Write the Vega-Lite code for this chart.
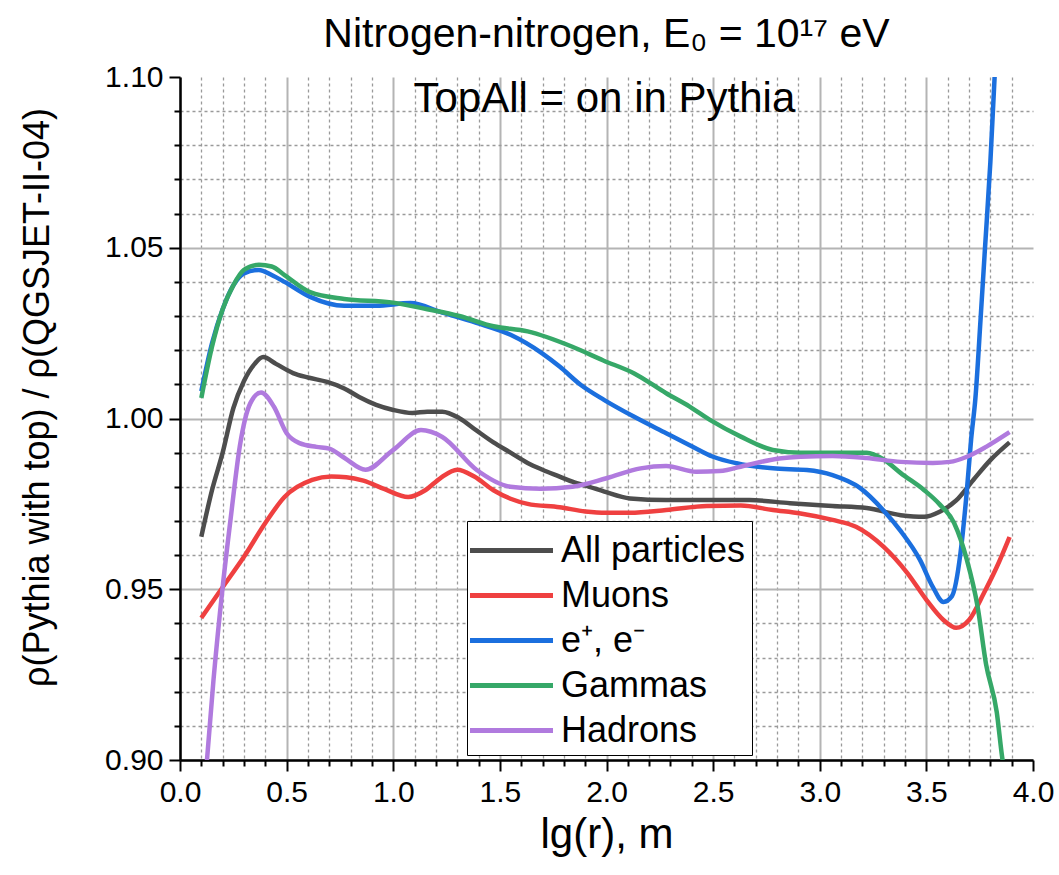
{
  "$schema": "https://vega.github.io/schema/vega-lite/v6.json",
  "width": 853,
  "height": 683,
  "autosize": {"type": "none"},
  "padding": {"left": 180, "top": 77, "right": 26, "bottom": 115},
  "background": "white",
  "config": {
    "view": {"stroke": null},
    "font": "Liberation Sans"
  },
  "title": {
    "text": "Nitrogen-nitrogen, E₀ = 10¹⁷ eV",
    "font": "Liberation Sans",
    "fontSize": 41,
    "fontWeight": "normal",
    "color": "black",
    "anchor": "middle",
    "frame": "group",
    "offset": 6
  },
  "datasets": {
    "curves": [
      {"series": "All particles", "x": 0.10, "y": 0.9654},
      {"series": "All particles", "x": 0.15, "y": 0.979},
      {"series": "All particles", "x": 0.20, "y": 0.990},
      {"series": "All particles", "x": 0.25, "y": 1.003},
      {"series": "All particles", "x": 0.30, "y": 1.011},
      {"series": "All particles", "x": 0.35, "y": 1.016},
      {"series": "All particles", "x": 0.39, "y": 1.018},
      {"series": "All particles", "x": 0.45, "y": 1.016},
      {"series": "All particles", "x": 0.53, "y": 1.0133},
      {"series": "All particles", "x": 0.60, "y": 1.012},
      {"series": "All particles", "x": 0.69, "y": 1.0107},
      {"series": "All particles", "x": 0.77, "y": 1.0088},
      {"series": "All particles", "x": 0.84, "y": 1.0063},
      {"series": "All particles", "x": 0.92, "y": 1.004},
      {"series": "All particles", "x": 1.00, "y": 1.0025},
      {"series": "All particles", "x": 1.09, "y": 1.0016},
      {"series": "All particles", "x": 1.16, "y": 1.002},
      {"series": "All particles", "x": 1.23, "y": 1.002},
      {"series": "All particles", "x": 1.31, "y": 1.0001},
      {"series": "All particles", "x": 1.39, "y": 0.9965},
      {"series": "All particles", "x": 1.47, "y": 0.993},
      {"series": "All particles", "x": 1.55, "y": 0.990},
      {"series": "All particles", "x": 1.63, "y": 0.987},
      {"series": "All particles", "x": 1.70, "y": 0.985},
      {"series": "All particles", "x": 1.78, "y": 0.983},
      {"series": "All particles", "x": 1.84, "y": 0.9815},
      {"series": "All particles", "x": 1.92, "y": 0.980},
      {"series": "All particles", "x": 1.99, "y": 0.9786},
      {"series": "All particles", "x": 2.11, "y": 0.9766},
      {"series": "All particles", "x": 2.28, "y": 0.9761},
      {"series": "All particles", "x": 2.47, "y": 0.9761},
      {"series": "All particles", "x": 2.67, "y": 0.9761},
      {"series": "All particles", "x": 2.86, "y": 0.9752},
      {"series": "All particles", "x": 3.06, "y": 0.9744},
      {"series": "All particles", "x": 3.22, "y": 0.9738},
      {"series": "All particles", "x": 3.38, "y": 0.9717},
      {"series": "All particles", "x": 3.49, "y": 0.9712},
      {"series": "All particles", "x": 3.56, "y": 0.9726},
      {"series": "All particles", "x": 3.64, "y": 0.976},
      {"series": "All particles", "x": 3.72, "y": 0.982},
      {"series": "All particles", "x": 3.80, "y": 0.9878},
      {"series": "All particles", "x": 3.89, "y": 0.993},

      {"series": "Muons", "x": 0.10, "y": 0.9416},
      {"series": "Muons", "x": 0.20, "y": 0.9506},
      {"series": "Muons", "x": 0.30, "y": 0.9595},
      {"series": "Muons", "x": 0.40, "y": 0.9694},
      {"series": "Muons", "x": 0.49, "y": 0.977},
      {"series": "Muons", "x": 0.62, "y": 0.982},
      {"series": "Muons", "x": 0.71, "y": 0.983},
      {"series": "Muons", "x": 0.78, "y": 0.9828},
      {"series": "Muons", "x": 0.86, "y": 0.9818},
      {"series": "Muons", "x": 0.96, "y": 0.9793},
      {"series": "Muons", "x": 1.07, "y": 0.977},
      {"series": "Muons", "x": 1.15, "y": 0.979},
      {"series": "Muons", "x": 1.22, "y": 0.9825},
      {"series": "Muons", "x": 1.30, "y": 0.985},
      {"series": "Muons", "x": 1.38, "y": 0.983},
      {"series": "Muons", "x": 1.47, "y": 0.979},
      {"series": "Muons", "x": 1.55, "y": 0.9765},
      {"series": "Muons", "x": 1.63, "y": 0.975},
      {"series": "Muons", "x": 1.78, "y": 0.974},
      {"series": "Muons", "x": 1.90, "y": 0.9728},
      {"series": "Muons", "x": 2.00, "y": 0.9724},
      {"series": "Muons", "x": 2.11, "y": 0.9724},
      {"series": "Muons", "x": 2.28, "y": 0.9732},
      {"series": "Muons", "x": 2.47, "y": 0.9744},
      {"series": "Muons", "x": 2.63, "y": 0.9745},
      {"series": "Muons", "x": 2.78, "y": 0.9732},
      {"series": "Muons", "x": 2.91, "y": 0.9722},
      {"series": "Muons", "x": 3.06, "y": 0.9703},
      {"series": "Muons", "x": 3.17, "y": 0.9683},
      {"series": "Muons", "x": 3.30, "y": 0.9624},
      {"series": "Muons", "x": 3.41, "y": 0.9548},
      {"series": "Muons", "x": 3.50, "y": 0.9469},
      {"series": "Muons", "x": 3.58, "y": 0.941},
      {"series": "Muons", "x": 3.64, "y": 0.9387},
      {"series": "Muons", "x": 3.70, "y": 0.941},
      {"series": "Muons", "x": 3.77, "y": 0.9489},
      {"series": "Muons", "x": 3.83, "y": 0.9565},
      {"series": "Muons", "x": 3.89, "y": 0.9653},

      {"series": "e⁺, e⁻", "x": 0.10, "y": 1.008},
      {"series": "e⁺, e⁻", "x": 0.15, "y": 1.022},
      {"series": "e⁺, e⁻", "x": 0.20, "y": 1.032},
      {"series": "e⁺, e⁻", "x": 0.25, "y": 1.039},
      {"series": "e⁺, e⁻", "x": 0.30, "y": 1.0425},
      {"series": "e⁺, e⁻", "x": 0.37, "y": 1.0435},
      {"series": "e⁺, e⁻", "x": 0.43, "y": 1.042},
      {"series": "e⁺, e⁻", "x": 0.49, "y": 1.040},
      {"series": "e⁺, e⁻", "x": 0.61, "y": 1.0356},
      {"series": "e⁺, e⁻", "x": 0.77, "y": 1.033},
      {"series": "e⁺, e⁻", "x": 0.92, "y": 1.033},
      {"series": "e⁺, e⁻", "x": 1.08, "y": 1.0338},
      {"series": "e⁺, e⁻", "x": 1.23, "y": 1.031},
      {"series": "e⁺, e⁻", "x": 1.39, "y": 1.028},
      {"series": "e⁺, e⁻", "x": 1.55, "y": 1.0245},
      {"series": "e⁺, e⁻", "x": 1.70, "y": 1.019},
      {"series": "e⁺, e⁻", "x": 1.78, "y": 1.0152},
      {"series": "e⁺, e⁻", "x": 1.88, "y": 1.0098},
      {"series": "e⁺, e⁻", "x": 1.99, "y": 1.0054},
      {"series": "e⁺, e⁻", "x": 2.13, "y": 1.0005},
      {"series": "e⁺, e⁻", "x": 2.28, "y": 0.9957},
      {"series": "e⁺, e⁻", "x": 2.39, "y": 0.9922},
      {"series": "e⁺, e⁻", "x": 2.50, "y": 0.9888},
      {"series": "e⁺, e⁻", "x": 2.61, "y": 0.9869},
      {"series": "e⁺, e⁻", "x": 2.78, "y": 0.9854},
      {"series": "e⁺, e⁻", "x": 2.94, "y": 0.9849},
      {"series": "e⁺, e⁻", "x": 3.06, "y": 0.9834},
      {"series": "e⁺, e⁻", "x": 3.19, "y": 0.9796},
      {"series": "e⁺, e⁻", "x": 3.30, "y": 0.973},
      {"series": "e⁺, e⁻", "x": 3.38, "y": 0.967},
      {"series": "e⁺, e⁻", "x": 3.47, "y": 0.9586},
      {"series": "e⁺, e⁻", "x": 3.53, "y": 0.9507},
      {"series": "e⁺, e⁻", "x": 3.58, "y": 0.9463},
      {"series": "e⁺, e⁻", "x": 3.62, "y": 0.948},
      {"series": "e⁺, e⁻", "x": 3.66, "y": 0.9606},
      {"series": "e⁺, e⁻", "x": 3.69, "y": 0.979},
      {"series": "e⁺, e⁻", "x": 3.71, "y": 0.994},
      {"series": "e⁺, e⁻", "x": 3.73, "y": 1.006},
      {"series": "e⁺, e⁻", "x": 3.755, "y": 1.030},
      {"series": "e⁺, e⁻", "x": 3.775, "y": 1.050},
      {"series": "e⁺, e⁻", "x": 3.80, "y": 1.075},
      {"series": "e⁺, e⁻", "x": 3.82, "y": 1.100},
      {"series": "e⁺, e⁻", "x": 3.83, "y": 1.115},

      {"series": "Gammas", "x": 0.10, "y": 1.006},
      {"series": "Gammas", "x": 0.15, "y": 1.021},
      {"series": "Gammas", "x": 0.20, "y": 1.032},
      {"series": "Gammas", "x": 0.25, "y": 1.039},
      {"series": "Gammas", "x": 0.30, "y": 1.0435},
      {"series": "Gammas", "x": 0.37, "y": 1.045},
      {"series": "Gammas", "x": 0.43, "y": 1.0445},
      {"series": "Gammas", "x": 0.49, "y": 1.042},
      {"series": "Gammas", "x": 0.61, "y": 1.037},
      {"series": "Gammas", "x": 0.77, "y": 1.035},
      {"series": "Gammas", "x": 0.99, "y": 1.034},
      {"series": "Gammas", "x": 1.16, "y": 1.032},
      {"series": "Gammas", "x": 1.31, "y": 1.030},
      {"series": "Gammas", "x": 1.47, "y": 1.027},
      {"series": "Gammas", "x": 1.63, "y": 1.0255},
      {"series": "Gammas", "x": 1.84, "y": 1.021},
      {"series": "Gammas", "x": 1.985, "y": 1.017},
      {"series": "Gammas", "x": 2.13, "y": 1.0132},
      {"series": "Gammas", "x": 2.28, "y": 1.0074},
      {"series": "Gammas", "x": 2.39, "y": 1.0035},
      {"series": "Gammas", "x": 2.485, "y": 0.9996},
      {"series": "Gammas", "x": 2.63, "y": 0.9947},
      {"series": "Gammas", "x": 2.78, "y": 0.9908},
      {"series": "Gammas", "x": 2.91, "y": 0.990},
      {"series": "Gammas", "x": 3.06, "y": 0.990},
      {"series": "Gammas", "x": 3.22, "y": 0.990},
      {"series": "Gammas", "x": 3.30, "y": 0.988},
      {"series": "Gammas", "x": 3.38, "y": 0.984},
      {"series": "Gammas", "x": 3.49, "y": 0.979},
      {"series": "Gammas", "x": 3.56, "y": 0.975},
      {"series": "Gammas", "x": 3.63, "y": 0.9694},
      {"series": "Gammas", "x": 3.69, "y": 0.9586},
      {"series": "Gammas", "x": 3.74, "y": 0.945},
      {"series": "Gammas", "x": 3.78, "y": 0.928},
      {"series": "Gammas", "x": 3.83, "y": 0.914},
      {"series": "Gammas", "x": 3.855, "y": 0.901},
      {"series": "Gammas", "x": 3.87, "y": 0.895},

      {"series": "Hadrons", "x": 0.12, "y": 0.895},
      {"series": "Hadrons", "x": 0.157, "y": 0.9234},
      {"series": "Hadrons", "x": 0.20, "y": 0.9506},
      {"series": "Hadrons", "x": 0.24, "y": 0.972},
      {"series": "Hadrons", "x": 0.28, "y": 0.9917},
      {"series": "Hadrons", "x": 0.33, "y": 1.0045},
      {"series": "Hadrons", "x": 0.38, "y": 1.0076},
      {"series": "Hadrons", "x": 0.44, "y": 1.0035},
      {"series": "Hadrons", "x": 0.50, "y": 0.9957},
      {"series": "Hadrons", "x": 0.56, "y": 0.9928},
      {"series": "Hadrons", "x": 0.64, "y": 0.9917},
      {"series": "Hadrons", "x": 0.70, "y": 0.9912},
      {"series": "Hadrons", "x": 0.77, "y": 0.9885},
      {"series": "Hadrons", "x": 0.87, "y": 0.985},
      {"series": "Hadrons", "x": 1.00, "y": 0.9908},
      {"series": "Hadrons", "x": 1.13, "y": 0.9966},
      {"series": "Hadrons", "x": 1.23, "y": 0.9946},
      {"series": "Hadrons", "x": 1.39, "y": 0.985},
      {"series": "Hadrons", "x": 1.55, "y": 0.980},
      {"series": "Hadrons", "x": 1.69, "y": 0.9794},
      {"series": "Hadrons", "x": 1.84, "y": 0.980},
      {"series": "Hadrons", "x": 2.00, "y": 0.9825},
      {"series": "Hadrons", "x": 2.16, "y": 0.9854},
      {"series": "Hadrons", "x": 2.28, "y": 0.9861},
      {"series": "Hadrons", "x": 2.42, "y": 0.9844},
      {"series": "Hadrons", "x": 2.53, "y": 0.9846},
      {"series": "Hadrons", "x": 2.66, "y": 0.9864},
      {"series": "Hadrons", "x": 2.81, "y": 0.9883},
      {"series": "Hadrons", "x": 2.91, "y": 0.9888},
      {"series": "Hadrons", "x": 3.06, "y": 0.989},
      {"series": "Hadrons", "x": 3.22, "y": 0.9884},
      {"series": "Hadrons", "x": 3.38, "y": 0.9873},
      {"series": "Hadrons", "x": 3.53, "y": 0.987},
      {"series": "Hadrons", "x": 3.61, "y": 0.9873},
      {"series": "Hadrons", "x": 3.69, "y": 0.9888},
      {"series": "Hadrons", "x": 3.78, "y": 0.9917},
      {"series": "Hadrons", "x": 3.89, "y": 0.996}
    ],
    "notes": [
      {"note": "TopAll = on in Pythia"}
    ]
  },
  "layer": [
    {
      "data": {"name": "curves"},
      "mark": {"type": "line", "interpolate": "monotone", "strokeWidth": 4.5, "clip": true},
      "encoding": {
        "x": {
          "field": "x",
          "type": "quantitative",
          "scale": {"domain": [0, 4], "nice": false, "zero": false},
          "axis": {
            "title": "lg(r), m",
            "titleFont": "Liberation Sans",
            "titleFontSize": 42,
            "titleFontWeight": "normal",
            "titleColor": "black",
            "titlePadding": 7,
            "tickCount": 200,
            "values": [0, 0.1, 0.2, 0.3, 0.4, 0.5, 0.6, 0.7, 0.8, 0.9, 1, 1.1, 1.2, 1.3, 1.4, 1.5, 1.6, 1.7, 1.8, 1.9, 2, 2.1, 2.2, 2.3, 2.4, 2.5, 2.6, 2.7, 2.8, 2.9, 3, 3.1, 3.2, 3.3, 3.4, 3.5, 3.6, 3.7, 3.8, 3.9, 4],
            "labelExpr": "indexof([0, 0.5, 1, 1.5, 2, 2.5, 3, 3.5, 4], datum.value) >= 0 ? format(datum.value, '.1f') : ''",
            "labelFont": "Liberation Sans",
            "labelFontSize": 30,
            "labelColor": "black",
            "labelPadding": 6,
            "labelFlush": false,
            "labelOverlap": false,
            "labelBound": false,
            "domainColor": "black",
            "domainWidth": 2.5,
            "tickColor": "black",
            "tickWidth": 2,
            "tickSize": {"condition": {"test": "indexof([0, 0.5, 1, 1.5, 2, 2.5, 3, 3.5, 4], datum.value) >= 0", "value": 11}, "value": 6},
            "grid": true,
            "gridColor": {"condition": {"test": "indexof([0, 0.5, 1, 1.5, 2, 2.5, 3, 3.5, 4], datum.value) >= 0", "value": "#b4b4b4"}, "value": "#9a9a9a"},
            "gridWidth": {"condition": {"test": "indexof([0, 0.5, 1, 1.5, 2, 2.5, 3, 3.5, 4], datum.value) >= 0", "value": 2}, "value": 1.3},
            "gridDash": {"condition": {"test": "indexof([0, 0.5, 1, 1.5, 2, 2.5, 3, 3.5, 4], datum.value) >= 0", "value": []}, "value": [3, 3]},
            "gridOpacity": {"condition": {"test": "datum.value > 3.95", "value": 0}, "value": 1}
          }
        },
        "y": {
          "field": "y",
          "type": "quantitative",
          "scale": {"domain": [0.9, 1.1], "nice": false, "zero": false},
          "axis": {
            "title": "ρ(Pythia with top) / ρ(QGSJET-II-04)",
            "titleFont": "Liberation Sans",
            "titleFontSize": 36,
            "titleFontWeight": "normal",
            "titleColor": "black",
            "titlePadding": 48,
            "titleY": 320,
            "tickCount": 200,
            "values": [0.9, 0.91, 0.92, 0.93, 0.94, 0.95, 0.96, 0.97, 0.98, 0.99, 1, 1.01, 1.02, 1.03, 1.04, 1.05, 1.06, 1.07, 1.08, 1.09, 1.1],
            "labelExpr": "indexof([0.9, 0.95, 1, 1.05, 1.1], datum.value) >= 0 ? format(datum.value, '.2f') : ''",
            "labelFont": "Liberation Sans",
            "labelFontSize": 30,
            "labelColor": "black",
            "labelPadding": 6,
            "labelFlush": false,
            "labelOverlap": false,
            "labelBound": false,
            "domainColor": "black",
            "domainWidth": 2.5,
            "tickColor": "black",
            "tickWidth": 2,
            "tickSize": {"condition": {"test": "indexof([0.9, 0.95, 1, 1.05, 1.1], datum.value) >= 0", "value": 11}, "value": 6},
            "grid": true,
            "gridColor": {"condition": {"test": "indexof([0.9, 0.95, 1, 1.05, 1.1], datum.value) >= 0", "value": "#b4b4b4"}, "value": "#9a9a9a"},
            "gridWidth": {"condition": {"test": "indexof([0.9, 0.95, 1, 1.05, 1.1], datum.value) >= 0", "value": 2}, "value": 1.3},
            "gridDash": {"condition": {"test": "indexof([0.9, 0.95, 1, 1.05, 1.1], datum.value) >= 0", "value": []}, "value": [3, 3]},
            "gridOpacity": {"condition": {"test": "datum.value > 1.095", "value": 0}, "value": 1}
          }
        },
        "color": {
          "field": "series",
          "type": "nominal",
          "scale": {
            "domain": ["All particles", "Muons", "e⁺, e⁻", "Gammas", "Hadrons"],
            "range": ["#4d4d4d", "#ef4040", "#1b6fde", "#36a868", "#b07ade"]
          },
          "legend": {
            "title": null,
            "orient": "none",
            "legendX": 287,
            "legendY": 444,
            "symbolType": "M-2,0L2,0",
            "symbolSize": 1722,
            "symbolStrokeWidth": 5,
            "symbolOffset": 15,
            "labelFont": "Liberation Sans",
            "labelFontSize": 36,
            "labelColor": "black",
            "labelOffset": 26,
            "rowPadding": 3,
            "padding": 6,
            "strokeColor": "black",
            "fillColor": "white",
            "labelLimit": 400
          }
        }
      }
    },
    {
      "data": {"name": "notes"},
      "mark": {
        "type": "text",
        "font": "Liberation Sans",
        "fontSize": 42,
        "color": "black",
        "align": "center",
        "baseline": "middle"
      },
      "encoding": {
        "text": {"field": "note", "type": "nominal"},
        "x": {"datum": 1.99},
        "y": {"datum": 1.0935}
      }
    }
  ]
}
